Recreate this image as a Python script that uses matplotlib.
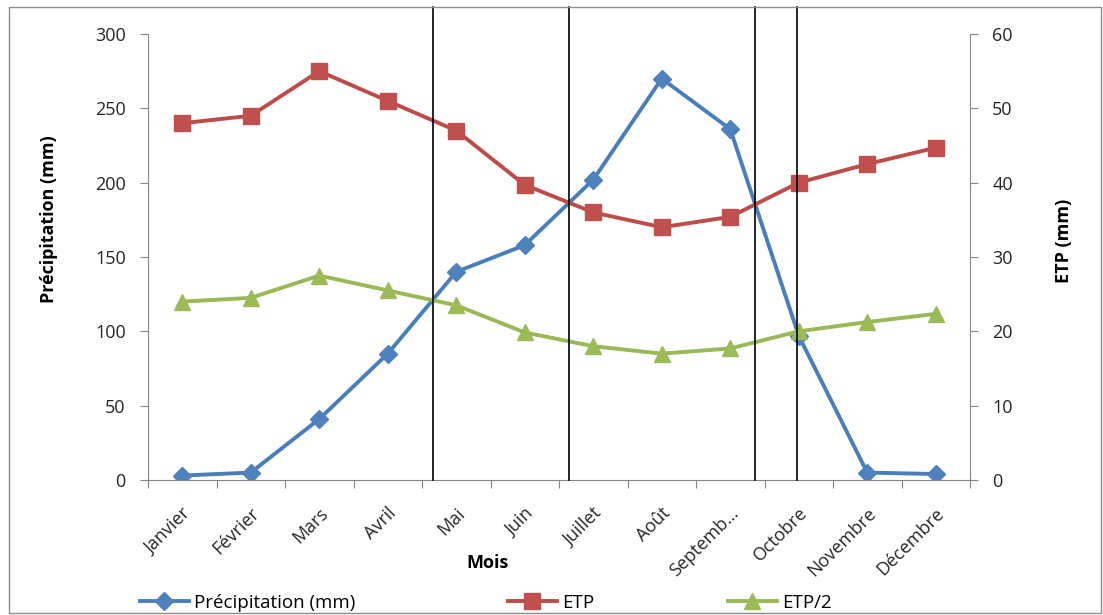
import matplotlib
matplotlib.use("Agg")
from matplotlib import pyplot as plt
from matplotlib.patches import Rectangle
from matplotlib.lines import Line2D
import matplotlib.transforms as mtransforms
import numpy as np

plt.rcParams['font.family'] = ['Open Sans', 'DejaVu Sans']

# Monthly data
mois = ["Janvier", "Février", "Mars", "Avril", "Mai", "Juin", "Juillet",
        "Août", "Septemb…", "Octobre", "Novembre", "Décembre"]
precipitation = [3, 5, 41, 85, 140, 158, 202, 270, 236, 97, 5, 4]
etp = [48, 49, 55, 51, 47, 39.7, 36, 34, 35.4, 40, 42.5, 44.7]
etp_demi = [24, 24.5, 27.5, 25.5, 23.5, 19.85, 18, 17, 17.7, 20, 21.25, 22.35]

gris = "#868686"
bleu, bleu_m = "#4A7EBB", "#4F81BD"
rouge, rouge_m = "#BE4B48", "#C0504D"
vert, vert_m = "#98B954", "#9BBB59"
lw = 2.8

fig = plt.figure(figsize=(11.03, 6.15), dpi=100)
ax = fig.add_axes([148 / 1103, 1 - 480 / 615, 822 / 1103, 446 / 615])
ax2 = ax.twinx()

x = np.arange(len(mois))
ax.plot(x, precipitation, color=bleu, lw=lw, marker="D", ms=9,
        mfc=bleu_m, mec=bleu_m, label="Précipitation (mm)")
ax2.plot(x, etp, color=rouge, lw=lw, marker="s", ms=12,
         mfc=rouge_m, mec=rouge_m, label="ETP")
ax2.plot(x, etp_demi, color=vert, lw=lw, marker="^", ms=11,
         mfc=vert_m, mec=vert_m, label="ETP/2")

ax.set_xlim(-0.5, len(mois) - 0.5)
ax.set_ylim(0, 300)
ax2.set_ylim(0, 60)
ax.set_yticks(np.arange(0, 301, 50))
ax2.set_yticks(np.arange(0, 61, 10))

# category ticks on the boundaries, labels in the middle
ax.set_xticks(np.arange(-0.5, len(mois), 1))
ax.set_xticklabels([])
ax.set_xticks(x, minor=True)
ax.set_xticklabels(mois, minor=True, rotation=45, ha="right", va="center",
                   rotation_mode="anchor", fontsize=13, color="#262626")
ax.tick_params(axis="x", which="major", direction="out", length=6, color=gris)
ax.tick_params(axis="x", which="minor", length=0, pad=22)
shift = mtransforms.ScaledTranslation(6 / 100, 0, fig.dpi_scale_trans)
for lab in ax.get_xticklabels(minor=True):
    lab.set_transform(lab.get_transform() + shift)

ax.tick_params(axis="y", direction="out", length=6, color=gris, pad=10,
               labelsize=13, labelcolor="#262626")
ax2.tick_params(axis="y", direction="out", length=6, color=gris, pad=10,
                labelsize=13, labelcolor="#262626")

for a in (ax, ax2):
    a.spines["top"].set_visible(False)
    for s in a.spines.values():
        s.set_color(gris)
ax.spines["right"].set_visible(False)
ax2.spines["left"].set_visible(False)
ax2.spines["bottom"].set_visible(False)

ax.set_ylabel("Précipitation (mm)", fontsize=13, fontweight="bold")
ax.yaxis.set_label_coords((58 - 148) / 822, (480 - 219) / 446)
ax2.set_ylabel("ETP (mm)", fontsize=13, fontweight="bold")
ax2.yaxis.set_label_coords((1055 - 148) / 822, (480 - 241) / 446)
ax.set_xlabel("Mois", fontsize=13, fontweight="bold", va="center")
ax.xaxis.set_label_coords((487 - 148) / 822, (480 - 563) / 446)

# vertical markers where precipitation crosses ETP and ETP/2
k = ax.get_ylim()[1] / ax2.get_ylim()[1]
p = np.array(precipitation, dtype=float)
croisements = []
for serie in (etp, etp_demi):
    d = p - k * np.array(serie)
    for i in range(len(d) - 1):
        if d[i] * d[i + 1] < 0:
            croisements.append(i + d[i] / (d[i] - d[i + 1]))
for xc in croisements:
    ax2.plot([xc, xc], [0, 1.0605], color="black", lw=1.2,
             transform=ax2.get_xaxis_transform(), clip_on=False, zorder=5)

# legend entries, spread along the bottom
handles = [
    Line2D([], [], color=bleu, lw=lw, marker="D", ms=9, mfc=bleu_m, mec=bleu_m),
    Line2D([], [], color=rouge, lw=lw, marker="s", ms=12, mfc=rouge_m, mec=rouge_m),
    Line2D([], [], color=vert, lw=lw, marker="^", ms=11, mfc=vert_m, mec=vert_m),
]
noms = ["Précipitation (mm)", "ETP", "ETP/2"]
positions = [140, 508, 728]
for h, n, px in zip(handles, noms, positions):
    fig.legend([h], [n], loc="center left", bbox_to_anchor=(px / 1103, 1 - 603 / 615),
               frameon=False, fontsize=13.5, handlelength=2.6, handletextpad=0.3,
               borderaxespad=0, borderpad=0)

fig.patches.append(Rectangle((9 / 1103, 2 / 615), 1092 / 1103, 606 / 615,
                             transform=fig.transFigure, fill=False,
                             edgecolor="#8c8c8c", lw=1))

fig.savefig("out.png", dpi=100)
